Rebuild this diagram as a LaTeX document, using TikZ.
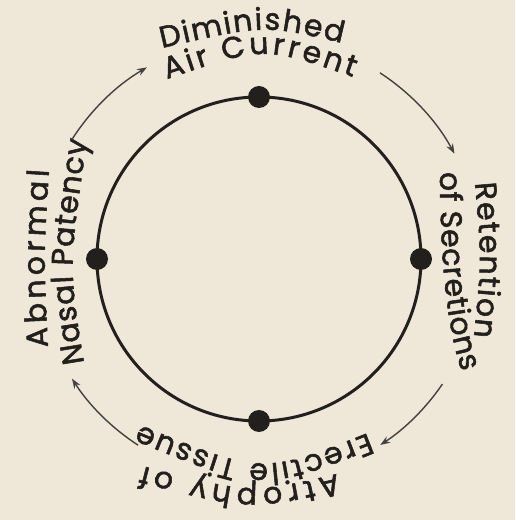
\documentclass[tikz,border=0pt]{standalone}
\usepackage{fontspec}
\setmainfont{Poppins}
\newfontfamily\lblff{Poppins}[FakeBold=1.8]
\usetikzlibrary{decorations.text,arrows.meta}
\definecolor{paper}{HTML}{EFE8D8}
\definecolor{ink}{HTML}{231F1C}
\newcommand\lblfont{\lblff\fontsize{15}{18}\selectfont}
\begin{document}
\begin{tikzpicture}[x=0.5pt,y=0.5pt,
  ring/.style={draw=ink,line width=1.5pt},
  dot/.style={circle,fill=ink,inner sep=0pt,minimum size=11pt},
  flow/.style={draw=ink!85,line width=0.7pt,-{Stealth[length=5pt,width=3.6pt]}},
  lbl/.style={decorate,decoration={text along path,text align={fit to path},text color=ink,text={|\lblfont|#1}}}]
\fill[paper] (0,0) rectangle (515,520);
\useasboundingbox (0,0) rectangle (515,520);
\coordinate (c) at (259,261);
\draw[ring] (c) circle[radius=162];
\node[dot] (dtop) at (259,423) {};
\node[dot] (dright) at (421,261) {};
\node[dot] (dbottom) at (259,99) {};
\node[dot] (dleft) at (97,261) {};
% labels
\path[lbl=Diminished] (162,472) .. controls (264,495.5) .. (342,477);
\path[lbl=Air Current] (167,441) .. controls (264,474) .. (353,443);
\path[lbl=Retention] (475,337) .. controls (481.5,260) .. (474,183);
\path[lbl=of Secretions] (440,348) .. controls (440,280) and (444,200) .. (462,148);
\path[lbl=Erectile Tissue] (368,87) .. controls (262,45) .. (140,95);
\path[lbl=Atrophy of] (337,46) .. controls (250.5,26) .. (142,54);
\path[lbl=Abnormal] (48,173) .. controls (43.5,262.5) .. (49,350);
\path[lbl=Nasal Patency] (84,157) .. controls (68.5,252.5) .. (87,380);
% arrows
\coordinate (a1) at ([shift={(147.5:222)}]c);
\coordinate (a2) at ([shift={(57:222)}]c);
\coordinate (a3) at ([shift={(-34.3:222)}]c);
\coordinate (a4) at ([shift={(-123:222)}]c);
\draw[flow] (a1) arc[start angle=147.5,end angle=120.3,radius=222];
\draw[flow] (a2) arc[start angle=57,end angle=28.3,radius=222];
\draw[flow] (a3) arc[start angle=-34.3,end angle=-56.9,radius=222];
\draw[flow] (a4) arc[start angle=-123,end angle=-147.4,radius=222];
\end{tikzpicture}
\end{document}
